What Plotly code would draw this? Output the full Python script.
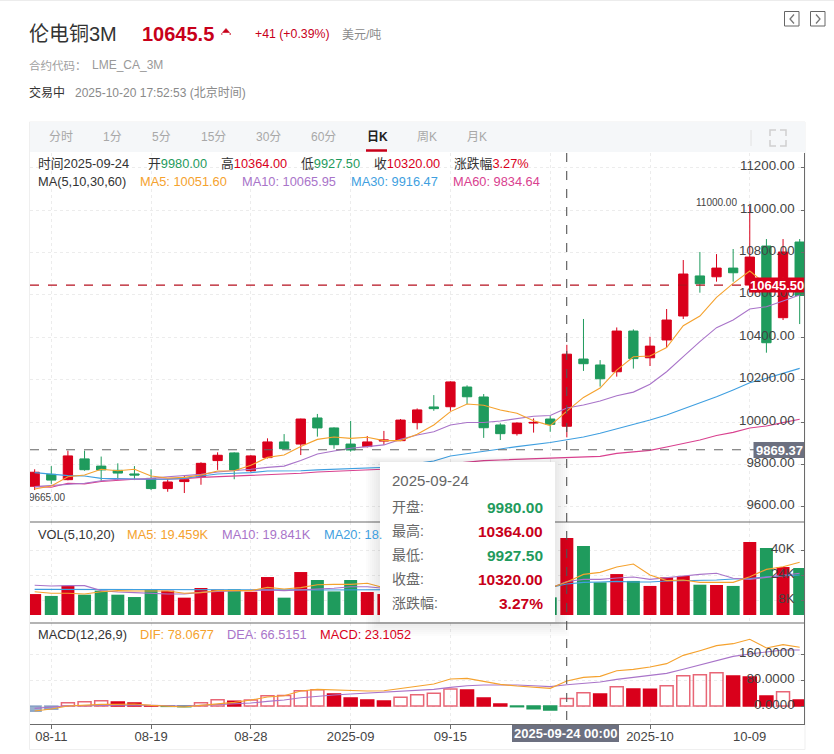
import plotly.graph_objects as go

dates = ["2025-08-08","2025-08-11","2025-08-12","2025-08-13","2025-08-14","2025-08-15","2025-08-18","2025-08-19",
         "2025-08-20","2025-08-21","2025-08-22","2025-08-26","2025-08-27","2025-08-28","2025-08-29","2025-09-01",
         "2025-09-02","2025-09-03","2025-09-04","2025-09-05","2025-09-08","2025-09-09","2025-09-10","2025-09-11",
         "2025-09-12","2025-09-15","2025-09-16","2025-09-17","2025-09-18","2025-09-19","2025-09-22","2025-09-23",
         "2025-09-24","2025-09-25","2025-09-26","2025-09-29","2025-09-30","2025-10-01","2025-10-02","2025-10-03",
         "2025-10-06","2025-10-07","2025-10-08","2025-10-09","2025-10-10","2025-10-13","2025-10-14"]
tick_index = [1, 7, 13, 19, 25, 31, 37, 43]
tick_labels = ["08-11", "08-19", "08-28", "2025-09", "09-15", "", "2025-10", ""]

open_ = [9697,9753,9728,9826,9792,9772,9755,9734,9686,9719,9742,9818,9854,9770,9832,9906,9896,10019,9972,9896,9884,9910,
         9912,9997,10071,10072,10165,10118,9986,9945,9995,10014,9980,10297,10269,10237,10429,10303,10387,10500,10689,
         10685,10726,10646,10830,10492,10849]
high = [9777,9792,9865,9865,9837,9805,9792,9777,9730,9747,9810,9857,9857,9844,9923,9943,10016,10038,9975,10005,9934,9958,
        10014,10064,10127,10192,10173,10132,9994,9998,10017,10028,10364,10486,10292,10446,10437,10402,10533,10764,10802,
        10792,10816,11020,10863,10863,10863]
low = [9679,9708,9725,9770,9719,9726,9726,9679,9671,9665,9704,9774,9730,9765,9828,9870,9844,9931,9874,9860,9880,9892,
       9910,9965,10053,10053,10085,9925,9915,9936,9950,9954,9927.5,10241,10167,10214,10252,10264,10352,10486,10610,
       10662,10662,10638,10327,10481,10462]
close = [9763,9726,9840,9775,9774,9759,9750,9686,9717,9728,9805,9843,9774,9840,9906,9874,10014,9972,9893,9868,9906,9915,
         10009,10057,10063,10189,10119,9973,9945,9995,9998,9989,10320,10275,10204,10429,10299,10358,10481,10698,10652,
         10726,10704,10778,10374,10802,10597]

ma5 = [9684,9698,9742,9750,9777,9770,9777,9745,9736,9739,9750,9769,9770,9796,9833,9844,9884,9918,9929,9923,9928,9912,
       9912,9942,9986,10049,10085,10079,10057,10041,10006,9983,10051.60,10116,10160,10245,10308,10311,10351,10454,
       10500,10588,10654,10712,10648,10678,10651]
ma10 = [9695,9700,9706,9711,9723,9730,9730,9734,9742,9747,9753,9764,9770,9777,9786,9792,9818,9849,9863,9876,9884,9892,
        9918,9939,9954,9986,9998,9998,10005,10017,10027,10031,10065.95,10080,10099,10124,10141,10178,10237,10308,
        10379,10445,10481,10533,10544,10571,10599]
ma30 = [9761,9753,9747,9745,9734,9733,9730,9730,9730,9734,9745,9755,9758,9761,9769,9769,9770,9774,9777,9777,9780,9783,
        9789,9805,9816,9840,9852,9863,9873,9884,9893,9903,9916.47,9929,9947,9967,9986,10009,10033,10061,10088,10119,
        10151,10185,10206,10230,10253]
ma60 = [9695,9692,9711,9708,9719,9723,9730,9730,9730,9733,9739,9742,9745,9747,9750,9755,9758,9764,9767,9770,9774,9777,
        9781,9789,9797,9805,9811,9818,9821,9824,9827,9832,9834.64,9838,9838,9852,9859,9866,9882,9899,9915,9936,9951,
        9972,9981,9997,10013]

volume = [11.8,10.6,17.2,11.4,14.0,11.4,9.9,14.8,14.0,9.5,15.7,14.6,14.8,13.3,22.7,9.5,25.9,20.8,13.5,20.8,13.1,11.8,
          14.0,12.5,13.5,15.0,17.5,24.0,14.5,12.0,10.5,9.7,47.7,42.6,19.3,24.6,20.2,17.0,22.5,23.4,17.8,17.6,17.0,
          45.1,41.3,29.1,28.5]
vol_ma5 = [13.3,12.3,12.3,11.8,13.3,14,13.8,14,13.8,12.3,12.7,14,14,14,16.1,15,15.9,17.8,18,18,18.7,15.9,
           14,14,13.5,14,15,17,17,16,15,15.7,19.459,24.4,25.7,29.1,31,24,20.4,20.8,19.3,19.3,19.3,22.9,27.6,29.3,32.1]
vol_ma10 = [17.4,17,17.2,17.2,14,13.1,12.7,12.1,11.8,11.8,12.9,13.5,13.8,14,14.4,14,14.4,15,15.5,16.5,16.5,15.5,
            15,15,14.5,14.5,14.5,15,15,15,15,15.5,19.841,21.2,21.2,22.1,22.7,21.2,22.5,23.4,24.4,25.1,21.9,21.2,22.5,24,25.1]
vol_ma20 = [14.8,14.8,14.8,14.9,14.9,14.8,14.8,14.8,14.7,14.7,14.7,14.8,14.8,14.8,14.8,14.6,14.5,14.4,14.4,14.4,14.5,14.5,
            14.5,14.6,14.6,14.7,14.8,15,15.2,15.4,15.6,16,18.2,19.3,19.5,19.9,19.5,19.5,20.2,20.4,20.4,20.8,21.4,21.7,22.9,23.4,24]

dif = [-15.6,-9.4,0,3.1,5.2,5.2,6.2,2.1,-1,-3.1,2.1,6.2,11.4,18.7,28.1,32.2,46.8,51.9,49.9,46.8,46.8,47.8,54,62.3,68.6,
       84.2,86.2,76.9,67.5,62.3,58.2,55.1,78.0677,89.4,92.5,110.1,114.3,121.6,132,157.9,172.5,188.1,194.3,207.8,180.8,191.2,182.9]
dea = [-7.3,-3.1,1,1,2.1,3.1,3.1,2.1,1,0,2.1,4.2,6.2,9.4,14.5,18.7,26,31.2,34.3,37.4,40.5,42.6,45.7,48.8,52,58.2,63.4,
       65.5,66.5,65.5,63.4,60.3,66.5151,71.7,74.8,83.1,89.4,96.6,101.8,114.3,127.8,140.3,154.8,162.1,167.3,174.6,174.6]
macd = [-16.6,-10.4,10.4,13.5,16.6,12.5,9.4,1,-1,-2,10.4,19.7,14.5,18.7,32.2,33,47.8,50.9,37.4,24.9,18.7,15.6,27,35.3,39.5,
        53,49.9,24.9,6.2,-2.1,-8.3,-12.5,23.1052,41.6,37.4,60.3,53,52.5,63.4,94.5,97.7,103.9,93.5,90.4,31.2,44.7,18.7]

price_ticks = [9600, 9800, 10000, 10200, 10400, 10600, 10800, 11000, 11200]
vol_ticks = [8, 24, 40]
vol_tick_labels = ["8K", "24K", "40K"]
macd_ticks = [0, 80, 160]

RED = "#d9001b"
GREEN = "#1f9b5d"
ORANGE = "#f5a22e"
PURPLE = "#a974c9"
BLUE = "#3f9fe0"
PINK = "#d9418f"
GRID = "#ececec"
AXIS = "#6b6b6b"
FONT = "Liberation Sans, Noto Sans CJK SC, sans-serif"

W, H = 834, 754
x_idx = list(range(len(dates)))
L, R, T1, B1, B2, B3 = 30, 804, 153, 522, 623, 724
px = lambda v: v / W
py = lambda v: 1 - v / H

fig = go.Figure()
fig.add_trace(go.Candlestick(
    x=x_idx, open=open_, high=high, low=low, close=close, hovertext=dates, whiskerwidth=0,
    increasing=dict(line=dict(color=RED, width=1), fillcolor=RED),
    decreasing=dict(line=dict(color=GREEN, width=1), fillcolor=GREEN),
    xaxis="x", yaxis="y", showlegend=False))
for vals, col in [(ma60, PINK), (ma30, BLUE), (ma10, PURPLE), (ma5, ORANGE)]:
    fig.add_trace(go.Scatter(x=x_idx, y=vals, mode="lines", line=dict(color=col, width=1.1),
                             xaxis="x", yaxis="y", showlegend=False, hoverinfo="skip"))
fig.add_trace(go.Scatter(x=[0.74], y=[9637], mode="text", text=["9665.00"], cliponaxis=True,
                         textfont=dict(size=10, color="#444", family=FONT),
                         xaxis="x", yaxis="y", showlegend=False, hoverinfo="skip"))

vol_floor = -1.6
fig.add_trace(go.Bar(
    x=x_idx, y=[v - vol_floor for v in volume], base=vol_floor,
    marker=dict(color=[RED if c >= o else GREEN for o, c in zip(open_, close)], line=dict(width=0)),
    xaxis="x", yaxis="y2", showlegend=False, hovertext=dates))
for vals, col in [(vol_ma20, BLUE), (vol_ma10, PURPLE), (vol_ma5, ORANGE)]:
    fig.add_trace(go.Scatter(x=x_idx, y=vals, mode="lines", line=dict(color=col, width=1.1),
                             xaxis="x", yaxis="y2", showlegend=False, hoverinfo="skip"))

fills, edges = [], []
for i, v in enumerate(macd):
    hollow = i == 0 or v > macd[i - 1]
    if v >= 0:
        fills.append("rgba(255,255,255,0)" if hollow else RED)
        edges.append("rgba(217,0,27,0.6)" if hollow else RED)
    else:
        fills.append("rgba(120,150,190,0.75)" if hollow else GREEN)
        edges.append("rgba(120,150,190,0.75)" if hollow else GREEN)
fig.add_trace(go.Bar(x=x_idx, y=macd, marker=dict(color=fills, line=dict(color=edges, width=1.5)),
                     xaxis="x", yaxis="y3", showlegend=False, hovertext=dates))
for vals, col in [(dea, PURPLE), (dif, ORANGE)]:
    fig.add_trace(go.Scatter(x=x_idx, y=vals, mode="lines", line=dict(color=col, width=1.1),
                             xaxis="x", yaxis="y3", showlegend=False, hoverinfo="skip"))

shapes = []
def rect(x0, y0, x1, y1, fill=None, line=None, lw=1, layer="above"):
    shapes.append(dict(type="rect", xref="paper", yref="paper", x0=px(x0), x1=px(x1), y0=py(y0), y1=py(y1),
                       fillcolor=fill or "rgba(0,0,0,0)", line=dict(color=line or "rgba(0,0,0,0)", width=lw if line else 0), layer=layer))
def seg(x0, y0, x1, y1, color, lw=1, dash="solid", layer="above"):
    shapes.append(dict(type="line", xref="paper", yref="paper", x0=px(x0), x1=px(x1), y0=py(y0), y1=py(y1),
                       line=dict(color=color, width=lw, dash=dash), layer=layer))
def poly(points, color, lw=1.2, fill=None):
    d = "M " + " L ".join(f"{px(a):.5f},{py(b):.5f}" for a, b in points)
    if fill:
        d += " Z"
    shapes.append(dict(type="path", xref="paper", yref="paper", path=d, line=dict(color=color, width=lw),
                       fillcolor=fill or "rgba(0,0,0,0)", layer="above"))

# page chrome
seg(0, 0.5, W, 0.5, "#ececec", 1)
rect(29.5, 122, 805, 749.5, None, "#efefef", 1, "below")
rect(30, 122, 805, 152, "#f5f7f9", None, layer="below")
seg(366, 150.5, 387, 150.5, "#c8001a", 2.5)
seg(751, 130, 751, 146, "#e2e2e2", 1)
for pts in [[(770, 136), (770, 130), (776, 130)], [(780, 130), (786, 130), (786, 136)],
            [(770, 140), (770, 146), (776, 146)], [(780, 146), (786, 146), (786, 140)]]:
    poly(pts, "#cfcfcf", 1.5)
rect(784.5, 11.5, 799, 26, None, "#666", 1)
rect(810.5, 11.5, 825, 26, None, "#666", 1)
poly([(794, 14.5), (790, 19), (794, 23.5)], "#777", 1.3)
poly([(816, 14.5), (820, 19), (816, 23.5)], "#777", 1.3)
poly([(222.5, 32.5), (226, 28.5), (229.5, 32.5)], "#c8001a", 0.6, "#c8001a")
poly([(221, 34), (222.5, 34)], "#c8001a", 1.2)
poly([(229.5, 34), (231, 34)], "#c8001a", 1.2)

# panel borders
seg(L, B1, R, B1, AXIS, 1.2)
seg(L, B2, R, B2, AXIS, 1.2)

# crosshairs and price lines
y_of = lambda v: 422 - (v - 10000) * 0.212
seg(L, y_of(10645.5), 750, y_of(10645.5), "#b5101f", 1.1, "dash")
seg(L, y_of(9869.37), 754, y_of(9869.37), "#666", 1.1, "dash")
seg(566.7, T1, 566.7, B3, "#555", 1.1, "dash")

# tooltip
for r in range(14, 1, -2):
    rect(380 - r, 462 - r * 0.4, 555 + r, 622 + r, "rgba(0,0,0,0.012)")
rect(380, 462, 555, 622, "#ffffff")

# value tags
rect(749, 277.5, 804, 292.5, "#d9001b")
rect(753.5, 442, 804, 458, "#6c7080")
rect(512, 725, 619, 742, "#6c7080")

ann = []
def text(x, y, s, size=12, color="#333", anchor="left", bold=False):
    if bold:
        s = f"<b>{s}</b>"
    shift = {"left": -2, "right": 2, "center": 0}[anchor]
    ann.append(dict(xref="paper", yref="paper", x=px(x), y=py(y), text=s, showarrow=False, xanchor=anchor,
                    yanchor="middle", align=anchor, xshift=shift, font=dict(size=size, color=color, family=FONT)))
def span(s, col):
    return f'<span style="color:{col}">{s}</span>'

text(29, 34, "伦电铜3M", 20, "#333")
text(142, 34, "10645.5", 20, "#c8001a", bold=True)
text(255, 34.5, "+41 (+0.39%)", 12.3, "#c8001a")
text(342, 35, "美元/吨", 12, "#8a8a8a")
text(29, 65.5, "合约代码：", 11.5, "#a0a0a0")
text(92, 65.5, "LME_CA_3M", 12, "#999")
text(29, 92.5, "交易中", 12, "#333")
text(75, 92.5, "2025-10-20 17:52:53 (北京时间)", 12, "#8a8a8a")
for xp, s in [(49, "分时"), (103, "1分"), (152, "5分"), (201, "15分"), (256, "30分"), (311, "60分"), (417, "周K"), (467, "月K")]:
    text(xp, 137, s, 12, "#a8a8a8")
text(367, 137, "日K", 12, "#222", bold=True)

INFO = 12.8
text(38, 163.5, "时间2025-09-24", INFO, "#333")
text(148, 163.5, "开" + span("9980.00", GREEN), INFO, "#333")
text(221, 163.5, "高" + span("10364.00", RED), INFO, "#333")
text(301, 163.5, "低" + span("9927.50", GREEN), INFO, "#333")
text(374, 163.5, "收" + span("10320.00", RED), INFO, "#333")
text(454, 163.5, "涨跌幅" + span("3.27%", RED), INFO, "#333")
text(38, 181.5, "MA(5,10,30,60)", INFO, "#333")
text(140, 181.5, "MA5: 10051.60", INFO, ORANGE)
text(242, 181.5, "MA10: 10065.95", INFO, PURPLE)
text(351, 181.5, "MA30: 9916.47", INFO, BLUE)
text(453, 181.5, "MA60: 9834.64", INFO, PINK)
text(38, 534, "VOL(5,10,20)", INFO, "#333")
text(127, 534, "MA5: 19.459K", INFO, ORANGE)
text(222, 534, "MA10: 19.841K", INFO, PURPLE)
text(324, 534, "MA20: 18.", INFO, BLUE)
text(38, 634.5, "MACD(12,26,9)", INFO, "#333")
text(140, 634.5, "DIF: 78.0677", INFO, ORANGE)
text(227, 634.5, "DEA: 66.5151", INFO, PURPLE)
text(320, 634.5, "MACD: 23.1052", INFO, RED)
text(696, 202, "11000.00", 10, "#444")
text(749, 736, "10-09", 13, "#444", "center")

text(392, 480.5, "2025-09-24", 15, "#666")
rows = [("开盘:", "9980.00", GREEN), ("最高:", "10364.00", "#c8001a"), ("最低:", "9927.50", GREEN),
        ("收盘:", "10320.00", "#c8001a"), ("涨跌幅:", "3.27%", "#c8001a")]
for (lab, val, col), yy in zip(rows, [507, 531, 555, 579, 603]):
    text(392, yy, lab, 14, "#666")
    text(543, yy, val, 15.5, col, "right", True)

text(776.5, 285, "10645.50", 13, "#fff", "center", True)
text(779, 450, "9869.37", 13, "#fff", "center", True)
text(565.5, 733.5, "2025-09-24 00:00", 13, "#fff", "center", True)

yaxis_common = dict(side="right", anchor="x", showline=True, linecolor=AXIS, linewidth=1.2, ticks="inside", ticklen=3,
                    tickcolor=AXIS, ticklabelposition="inside", ticklabelstandoff=6, ticklabelshift=-2,
                    showgrid=True, gridcolor=GRID, griddash="dot",
                    gridwidth=1, zeroline=False, tickfont=dict(size=13.3, color="#444", family=FONT))
fig.update_layout(
    width=W, height=H, autosize=False, margin=dict(l=0, r=0, t=0, b=0),
    paper_bgcolor="white", plot_bgcolor="white", showlegend=False, barmode="overlay", bargap=0.22, boxgap=0.2,
    hovermode=False, shapes=shapes, annotations=ann, font=dict(family=FONT),
    xaxis=dict(domain=[px(L), px(R)], range=[-0.28, 46.26], anchor="y3", tickmode="array", tickvals=tick_index,
               ticktext=tick_labels, ticks="outside", ticklen=4, tickcolor=AXIS, showline=True, linecolor=AXIS,
               linewidth=1.2, showgrid=True, gridcolor=GRID, griddash="dot", gridwidth=1, zeroline=False,
               ticklabelstandoff=-4, rangeslider=dict(visible=False),
               tickfont=dict(size=13, color="#444", family=FONT), tickangle=0),
    yaxis=dict(domain=[py(B1), py(T1)], range=[9528.3, 11268.9], tickmode="array", tickvals=price_ticks,
               tickformat=".2f", **yaxis_common),
    yaxis2=dict(domain=[py(B2), py(B1)], range=[-6.72, 57.92], tickmode="array", tickvals=vol_ticks,
                ticktext=vol_tick_labels, **yaxis_common),
    yaxis3=dict(domain=[py(B3), py(B2)], range=[-56, 258.7], tickmode="array", tickvals=macd_ticks,
                tickformat=".4f", **yaxis_common),
)
fig.write_html("out.html", config=dict(displayModeBar=False),
               post_script="document.body.style.margin='0';")
